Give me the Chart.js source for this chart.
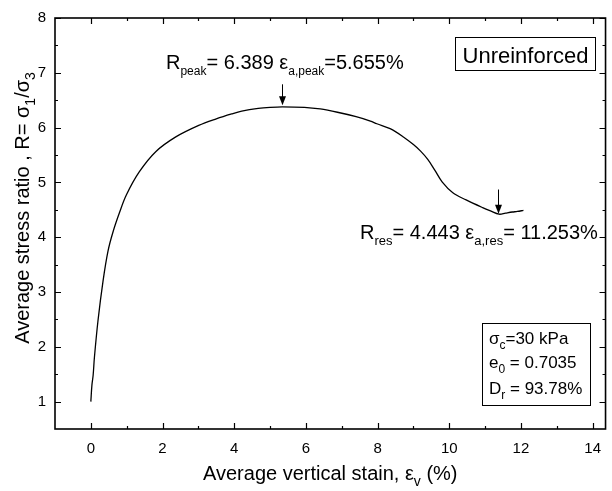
<!DOCTYPE html>
<html><head><meta charset="utf-8">
<script src="https://cdn.jsdelivr.net/npm/chart.js@4/dist/chart.umd.min.js"></script>
<style>html,body{margin:0;padding:0;background:#fff}#wrap{width:612px;height:491px;position:relative}</style>
</head><body><div id="wrap"><canvas id="c" width="612" height="491"></canvas></div>
<script>
// ---- data ----
const strain = [0, 0.03, 0.064, 0.1, 0.2, 0.34, 0.48, 0.62, 0.8, 0.99, 1.35, 1.81, 2.37, 3.01, 3.5, 3.93, 4.21, 4.67, 5.0, 5.34, 5.96, 6.4, 6.88, 7.4, 7.8, 7.98, 8.35, 8.72, 9.0, 9.2, 9.4, 9.6, 9.8, 10.1, 10.47, 10.93, 11.15, 11.39, 11.57, 11.76, 11.9, 12.07];
const ratio  = [1.0, 1.3, 1.48, 1.81, 2.48, 3.2, 3.75, 4.1, 4.45, 4.77, 5.19, 5.56, 5.83, 6.04, 6.16, 6.25, 6.30, 6.35, 6.37, 6.38, 6.37, 6.34, 6.28, 6.2, 6.12, 6.07, 5.98, 5.83, 5.69, 5.57, 5.42, 5.22, 5.01, 4.81, 4.68, 4.54, 4.48, 4.42, 4.44, 4.46, 4.47, 4.49];
const xTickLabels = [0, 2, 4, 6, 8, 10, 12, 14];
const yTickLabels = [1, 2, 3, 4, 5, 6, 7, 8];
const xMinorTicks = [1, 3, 5, 7, 9, 11, 13];
const yMinorTicks = [1.5, 2.5, 3.5, 4.5, 5.5, 6.5, 7.5];
const peakArrow = [5.34, 6.79, 6.41];   // x, from y, to y
const resArrow  = [11.35, 4.87, 4.43];

const FONT = '"Liberation Sans", Arial, sans-serif';

function rich(ctx, parts, x, y, size, align, subRatio) {
  const subSize = Math.round(size * (subRatio || 0.68));
  let w = 0;
  parts.forEach(p => {
    ctx.font = (p[1] ? subSize : size) + 'px ' + FONT;
    w += ctx.measureText(p[0]).width;
  });
  let cx = align === 'center' ? x - w / 2 : (align === 'right' ? x - w : x);
  ctx.textAlign = 'left';
  ctx.textBaseline = 'alphabetic';
  parts.forEach(p => {
    ctx.font = (p[1] ? subSize : size) + 'px ' + FONT;
    ctx.fillText(p[0], cx, y + (p[1] ? size * 0.3 : 0));
    cx += ctx.measureText(p[0]).width;
  });
}

const decor = {
  id: 'decor',
  afterDatasetsDraw(chart) {
    const ctx = chart.ctx, a = chart.chartArea;
    const xs = chart.scales.x, ys = chart.scales.y;
    ctx.save();
    ctx.fillStyle = '#000';
    ctx.strokeStyle = '#000';
    // frame
    ctx.lineWidth = 1.6;
    ctx.strokeRect(a.left, a.top, a.right - a.left, a.bottom - a.top);
    // ticks (inward)
    ctx.lineWidth = 1.2;
    ctx.beginPath();
    xTickLabels.forEach(v => { const p = Math.round(xs.getPixelForValue(v)) + 0.5;
      ctx.moveTo(p, a.bottom); ctx.lineTo(p, a.bottom - 6);
      ctx.moveTo(p, a.top); ctx.lineTo(p, a.top + 6); });
    xMinorTicks.forEach(v => { const p = Math.round(xs.getPixelForValue(v)) + 0.5;
      ctx.moveTo(p, a.bottom); ctx.lineTo(p, a.bottom - 3);
      ctx.moveTo(p, a.top); ctx.lineTo(p, a.top + 3); });
    yTickLabels.forEach(v => { const p = Math.round(ys.getPixelForValue(v)) + 0.5;
      ctx.moveTo(a.left, p); ctx.lineTo(a.left + 6, p);
      ctx.moveTo(a.right, p); ctx.lineTo(a.right - 6, p); });
    yMinorTicks.forEach(v => { const p = Math.round(ys.getPixelForValue(v)) + 0.5;
      ctx.moveTo(a.left, p); ctx.lineTo(a.left + 3, p);
      ctx.moveTo(a.right, p); ctx.lineTo(a.right - 3, p); });
    ctx.stroke();

    // arrows
    [peakArrow, resArrow].forEach(ar => {
      const x = Math.round(xs.getPixelForValue(ar[0])) + 0.5;
      const y0 = ys.getPixelForValue(ar[1]), y1 = ys.getPixelForValue(ar[2]);
      ctx.lineWidth = 1;
      ctx.beginPath(); ctx.moveTo(x, y0); ctx.lineTo(x, y1 - 7); ctx.stroke();
      ctx.beginPath(); ctx.moveTo(x - 3.5, y1 - 9); ctx.lineTo(x + 3.5, y1 - 9); ctx.lineTo(x, y1); ctx.closePath(); ctx.fill();
    });

    // annotation texts
    rich(ctx, [['R',0],['peak',1],['= 6.389 ',0],['\u03b5',0],['a,peak',1],['=5.655%',0]], 166, 69, 20, 'left', 0.62);
    rich(ctx, [['R',0],['res',1],['= 4.443 ',0],['\u03b5',0],['a,res',1],['= 11.253%',0]], 360, 239, 20, 'left', 0.66);

    // Unreinforced box
    ctx.lineWidth = 1;
    ctx.strokeRect(455.5, 37.5, 140, 33);
    rich(ctx, [['Unreinforced',0]], 525.5, 63, 22, 'center');

    // parameter box
    ctx.strokeRect(482.5, 323.5, 108, 82);
    rich(ctx, [['\u03c3',0],['c',1],['=30 kPa',0]], 489, 344, 17, 'left');
    rich(ctx, [['e',0],['0',1],[' = 0.7035',0]], 489, 368, 17, 'left');
    rich(ctx, [['D',0],['r',1],[' = 93.78%',0]], 489, 394, 17, 'left');

    // axis titles
    rich(ctx, [['Average vertical stain, ',0],['\u03b5',0],['v',1],[' (%)',0]], (a.left + a.right) / 2, 480, 20, 'center');
    ctx.save();
    ctx.translate(29, 208);
    ctx.rotate(-Math.PI / 2);
    rich(ctx, [['Average stress ratio , R= \u03c3',0],['1',1],['/\u03c3',0],['3',1]], 0, 0, 20, 'center');
    ctx.restore();
    ctx.restore();
  }
};

new Chart(document.getElementById('c'), {
  type: 'scatter',
  data: {
    datasets: [{
      data: strain.map((x, i) => ({ x: x, y: ratio[i] })),
      showLine: true,
      borderColor: '#000',
      borderWidth: 1.3,
      pointRadius: 0,
      tension: 0.35,
      fill: false
    }]
  },
  options: {
    responsive: false,
    animation: false,
    devicePixelRatio: 1,
    layout: { padding: { top: 15, right: 1, left: 0, bottom: 0 } },
    plugins: { legend: { display: false }, tooltip: { enabled: false } },
    scales: {
      x: {
        type: 'linear', min: -1, max: 14.36,
        afterBuildTicks: s => { s.ticks = xTickLabels.map(v => ({ value: v })); },
        afterFit: s => { s.height = 62; },
        grid: { display: false, drawTicks: false },
        border: { display: false },
        ticks: { color: '#000', padding: 11, font: { family: FONT, size: 15 }, maxRotation: 0 }
      },
      y: {
        type: 'linear', min: 0.5, max: 8,
        afterBuildTicks: s => { s.ticks = yTickLabels.map(v => ({ value: v })); },
        afterFit: s => { s.width = 55; },
        grid: { display: false, drawTicks: false },
        border: { display: false },
        ticks: { color: '#000', padding: 9, font: { family: FONT, size: 15 } }
      }
    }
  },
  plugins: [decor]
});
</script>
</body></html>
